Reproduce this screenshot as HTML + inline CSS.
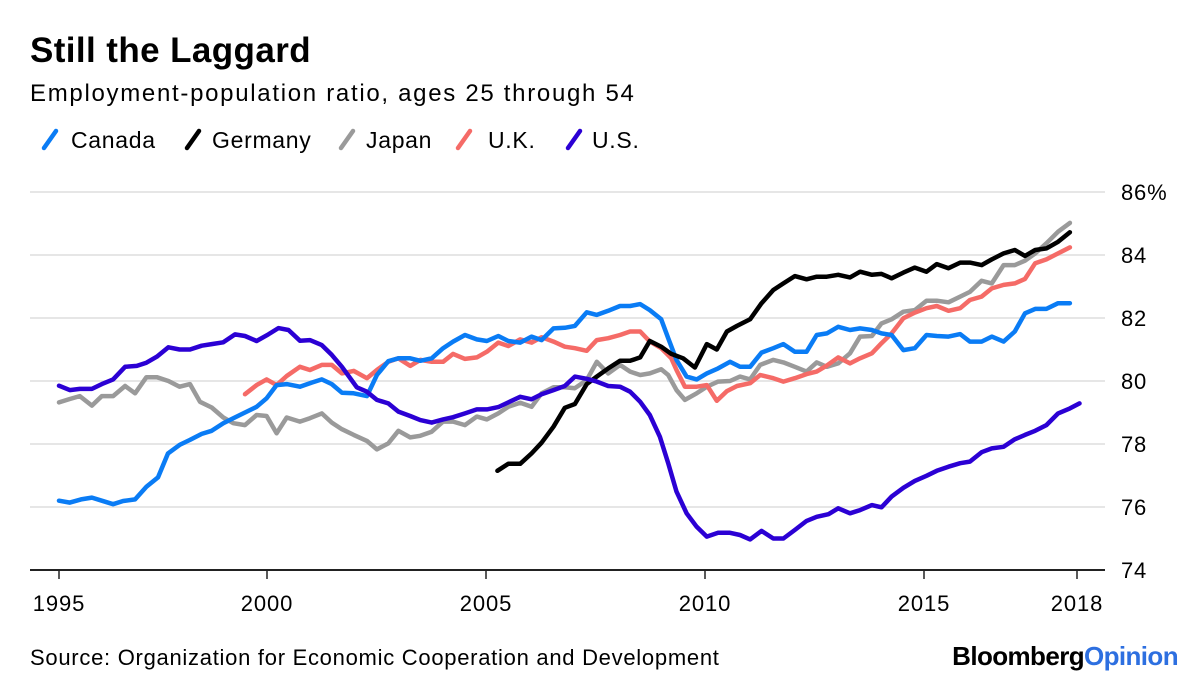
<!DOCTYPE html>
<html><head><meta charset="utf-8">
<style>
body{margin:0;background:#fff;font-family:"Liberation Sans",Arial,sans-serif;}
#wrap{position:relative;width:1200px;height:684px;overflow:hidden;}
svg{position:absolute;left:0;top:0;}
</style></head>
<body>
<div id="wrap">
<svg id="chart" width="1200" height="684">
  <text x="30" y="62" font-size="35" font-weight="bold" letter-spacing="0.4" fill="#000">Still the Laggard</text>
  <text x="30" y="101" font-size="24" letter-spacing="1.7" fill="#000">Employment-population ratio, ages 25 through 54</text>
  <g id="legend"></g>
  <g id="grid"></g>
  <g id="yaxis"></g>
  <g id="xaxis"></g>
  <g id="series"></g>
  <text x="30" y="665" font-size="22" letter-spacing="0.72" fill="#000">Source: Organization for Economic Cooperation and Development</text>
  <text x="1178" y="665" font-size="26" font-weight="bold" text-anchor="end" letter-spacing="-0.6"><tspan fill="#000">Bloomberg</tspan><tspan fill="#2d6fe0">Opinion</tspan></text>
</svg>
</div>
<script>
const yTicks=[74,76,78,80,82,84,86];
const xTickYears=[1995,2000,2005,2010,2015,2018];
const seriesNames=["Canada","Germany","Japan","U.K.","U.S."];
const seriesColors=["#0a7cf5","#000000","#9a9a9a","#f56b67","#2b00d4"];

const canadaT=[1995.0,1995.26,1995.53,1995.79,1996.03,1996.3,1996.54,1996.83,1997.1,1997.38,1997.62,1997.9,1998.15,1998.43,1998.67,1998.95,1999.19,1999.47,1999.75,1999.99,2000.22,2000.45,2000.75,2001.02,2001.25,2001.48,2001.71,2001.98,2002.28,2002.51,2002.77,2003.0,2003.27,2003.5,2003.76,2004.02,2004.25,2004.52,2004.79,2005.02,2005.28,2005.51,2005.78,2006.04,2006.27,2006.54,2006.8,2007.03,2007.3,2007.53,2007.79,2008.06,2008.29,2008.52,2008.74,2009.0,2009.16,2009.35,2009.58,2009.81,2010.04,2010.3,2010.57,2010.8,2011.03,2011.29,2011.56,2011.79,2012.05,2012.32,2012.55,2012.78,2013.04,2013.31,2013.54,2013.81,2014.03,2014.26,2014.53,2014.79,2015.05,2015.25,2015.48,2015.71,2015.9,2016.13,2016.33,2016.56,2016.78,2016.98,2017.18,2017.4,2017.63,2017.86];
const canadaV=[76.2,76.14,76.24,76.3,76.2,76.09,76.19,76.24,76.64,76.94,77.7,77.97,78.13,78.32,78.42,78.66,78.82,79.0,79.18,79.45,79.87,79.9,79.82,79.95,80.05,79.9,79.63,79.61,79.52,80.19,80.63,80.72,80.72,80.64,80.72,81.04,81.25,81.46,81.32,81.27,81.43,81.27,81.22,81.41,81.3,81.67,81.69,81.75,82.18,82.1,82.23,82.38,82.38,82.44,82.25,81.96,81.36,80.67,80.14,80.05,80.24,80.4,80.61,80.45,80.45,80.9,81.04,81.17,80.93,80.93,81.46,81.51,81.72,81.62,81.67,81.62,81.51,81.46,80.98,81.04,81.46,81.43,81.41,81.49,81.25,81.25,81.41,81.25,81.57,82.15,82.29,82.29,82.47,82.47];

const germanyT=[2005.26,2005.51,2005.78,2006.04,2006.27,2006.54,2006.8,2007.03,2007.3,2007.53,2007.79,2008.06,2008.29,2008.52,2008.74,2009.0,2009.23,2009.5,2009.77,2010.04,2010.27,2010.5,2010.73,2011.03,2011.28,2011.56,2011.79,2012.05,2012.32,2012.55,2012.78,2013.04,2013.31,2013.54,2013.81,2014.03,2014.26,2014.53,2014.79,2015.05,2015.25,2015.48,2015.71,2015.9,2016.13,2016.33,2016.56,2016.78,2016.98,2017.18,2017.4,2017.63,2017.86];
const germanyV=[77.15,77.37,77.37,77.7,78.04,78.55,79.15,79.27,79.9,80.14,80.4,80.64,80.64,80.75,81.27,81.09,80.86,80.72,80.43,81.17,81.0,81.57,81.75,81.96,82.45,82.89,83.1,83.33,83.23,83.31,83.31,83.37,83.29,83.47,83.37,83.4,83.26,83.44,83.6,83.47,83.71,83.58,83.76,83.76,83.68,83.86,84.05,84.16,83.97,84.16,84.21,84.42,84.72];

const japanT=[1995.0,1995.26,1995.5,1995.79,1996.03,1996.3,1996.59,1996.83,1997.1,1997.35,1997.63,1997.9,1998.15,1998.39,1998.67,1998.95,1999.19,1999.47,1999.75,1999.99,2000.22,2000.45,2000.75,2000.98,2001.25,2001.48,2001.71,2001.98,2002.28,2002.51,2002.77,2003.0,2003.27,2003.5,2003.76,2004.02,2004.25,2004.52,2004.79,2005.02,2005.28,2005.51,2005.78,2006.04,2006.27,2006.54,2006.8,2007.03,2007.3,2007.53,2007.79,2008.06,2008.29,2008.52,2008.74,2009.0,2009.16,2009.35,2009.54,2009.81,2010.04,2010.3,2010.57,2010.8,2011.03,2011.26,2011.56,2011.79,2012.05,2012.32,2012.55,2012.78,2013.04,2013.31,2013.54,2013.81,2014.03,2014.26,2014.53,2014.79,2015.05,2015.25,2015.48,2015.71,2015.9,2016.13,2016.33,2016.56,2016.78,2016.98,2017.18,2017.4,2017.63,2017.86];
const japanV=[79.32,79.43,79.52,79.22,79.52,79.52,79.84,79.61,80.12,80.12,80.0,79.82,79.9,79.34,79.16,78.84,78.66,78.6,78.92,78.89,78.34,78.84,78.71,78.82,78.97,78.68,78.47,78.29,78.1,77.83,78.02,78.42,78.21,78.26,78.39,78.71,78.71,78.6,78.87,78.78,78.97,79.18,79.31,79.18,79.61,79.8,79.8,79.77,80.03,80.61,80.24,80.51,80.3,80.19,80.24,80.37,80.19,79.71,79.4,79.61,79.82,79.98,80.0,80.14,80.05,80.51,80.67,80.59,80.45,80.3,80.59,80.45,80.56,80.88,81.41,81.43,81.83,81.96,82.2,82.25,82.55,82.55,82.5,82.68,82.83,83.18,83.1,83.68,83.68,83.82,84.05,84.37,84.74,85.02];

const ukT=[1999.47,1999.75,1999.99,2000.22,2000.45,2000.75,2000.98,2001.25,2001.48,2001.71,2001.98,2002.28,2002.51,2002.77,2003.0,2003.27,2003.5,2003.76,2004.02,2004.25,2004.52,2004.79,2005.02,2005.28,2005.51,2005.78,2006.04,2006.27,2006.54,2006.8,2007.03,2007.3,2007.53,2007.79,2008.06,2008.29,2008.52,2008.74,2009.0,2009.23,2009.35,2009.54,2009.81,2010.04,2010.27,2010.5,2010.73,2011.03,2011.26,2011.56,2011.79,2012.05,2012.32,2012.55,2012.78,2013.04,2013.31,2013.54,2013.81,2014.03,2014.26,2014.53,2014.79,2015.05,2015.25,2015.48,2015.71,2015.9,2016.13,2016.33,2016.56,2016.78,2016.98,2017.18,2017.4,2017.63,2017.86];
const ukV=[79.58,79.87,80.05,79.87,80.16,80.45,80.35,80.51,80.51,80.24,80.32,80.09,80.35,80.61,80.72,80.48,80.67,80.61,80.61,80.86,80.7,80.75,80.93,81.22,81.11,81.32,81.22,81.39,81.25,81.09,81.04,80.96,81.3,81.36,81.46,81.57,81.57,81.25,81.04,80.72,80.35,79.82,79.82,79.87,79.37,79.68,79.84,79.93,80.19,80.09,79.98,80.09,80.22,80.3,80.49,80.75,80.56,80.72,80.88,81.2,81.51,81.99,82.17,82.31,82.38,82.23,82.31,82.57,82.68,82.94,83.05,83.1,83.24,83.74,83.86,84.05,84.24];

const usT=[1995.0,1995.26,1995.5,1995.79,1996.03,1996.3,1996.59,1996.87,1997.1,1997.35,1997.63,1997.9,1998.15,1998.43,1998.67,1998.95,1999.23,1999.47,1999.75,2000.03,2000.26,2000.49,2000.75,2000.98,2001.25,2001.48,2001.71,2001.9,2002.05,2002.28,2002.51,2002.77,2003.0,2003.27,2003.5,2003.76,2004.02,2004.25,2004.52,2004.79,2005.02,2005.28,2005.51,2005.78,2006.04,2006.27,2006.54,2006.8,2007.03,2007.3,2007.53,2007.79,2008.06,2008.29,2008.52,2008.74,2008.97,2009.16,2009.35,2009.58,2009.81,2010.04,2010.3,2010.57,2010.8,2011.03,2011.29,2011.56,2011.79,2012.05,2012.32,2012.55,2012.82,2013.04,2013.31,2013.54,2013.81,2014.03,2014.26,2014.53,2014.79,2015.05,2015.25,2015.48,2015.71,2015.9,2016.13,2016.33,2016.56,2016.78,2016.98,2017.18,2017.4,2017.63,2017.86,2018.05];
const usV=[79.85,79.71,79.75,79.75,79.9,80.05,80.45,80.48,80.58,80.77,81.07,81.0,81.0,81.12,81.17,81.23,81.48,81.43,81.27,81.48,81.68,81.62,81.28,81.3,81.14,80.83,80.45,80.09,79.8,79.66,79.4,79.29,79.03,78.89,78.76,78.68,78.78,78.85,78.97,79.1,79.1,79.17,79.32,79.5,79.42,79.58,79.71,79.84,80.14,80.07,79.98,79.84,79.82,79.66,79.34,78.92,78.23,77.39,76.49,75.8,75.37,75.06,75.18,75.18,75.11,74.97,75.24,75.0,75.0,75.27,75.56,75.69,75.77,75.96,75.8,75.9,76.06,75.99,76.33,76.61,76.83,76.99,77.15,77.28,77.39,77.44,77.74,77.86,77.91,78.15,78.29,78.42,78.6,78.97,79.13,79.29];

const seriesT=[canadaT,germanyT,japanT,ukT,usT];
const seriesV=[canadaV,germanyV,japanV,ukV,usV];

const NS="http://www.w3.org/2000/svg";
const plotLeft=30, plotRight=1105, yTop=192, yBottom=570;
const xAnchorYears=[1995,2000,2005,2010,2015,2018];
const xAnchorPx=[59,267,486,705,924,1077];
function xScale(t){
  let i=0;
  while(i<xAnchorYears.length-2 && t>xAnchorYears[i+1]) i++;
  const a=xAnchorYears[i],b=xAnchorYears[i+1];
  return xAnchorPx[i]+(t-a)/(b-a)*(xAnchorPx[i+1]-xAnchorPx[i]);
}
function yScale(v){return yBottom-(v-74)/(86-74)*(yBottom-yTop);}
function mk(tag,attrs,parent){const e=document.createElementNS(NS,tag);for(const k in attrs)e.setAttribute(k,attrs[k]);parent.appendChild(e);return e;}

const grid=document.getElementById('grid'), yaxis=document.getElementById('yaxis'), xaxis=document.getElementById('xaxis');
yTicks.forEach(v=>{
  const y=yScale(v);
  if(v!==74){
    const l=mk('line',{x1:plotLeft,x2:plotRight,y1:y,y2:y,stroke:'#e6e6e6','stroke-width':2},grid);
    
    
  }
  const t=mk('text',{x:1121,y:y+8,'font-size':22,'letter-spacing':0.8,fill:'#000'},yaxis);
  t.textContent=v===86?'86%':String(v);
  
  
});
const axisLine=mk('line',{x1:plotLeft,x2:plotRight,y1:yBottom,y2:yBottom,stroke:'#222','stroke-width':2},xaxis);


xTickYears.forEach(yr=>{
  const x=xScale(yr);
  const tk=mk('line',{x1:x,x2:x,y1:yBottom,y2:yBottom+9,stroke:'#222','stroke-width':1.5},xaxis);
  
  
  const t=mk('text',{x:x,y:611,'font-size':22,'letter-spacing':0.9,'text-anchor':'middle',fill:'#000'},xaxis);
  t.textContent=String(yr);
  
  
});

const series=document.getElementById('series');
const order=[2,3,0,1,4];
order.forEach(i=>{
  const T=seriesT[i],V=seriesV[i];
  const pts=T.map((t,k)=>xScale(t).toFixed(1)+','+yScale(V[k]).toFixed(1)).join(' ');
  const p=mk('polyline',{points:pts,fill:'none',stroke:seriesColors[i],'stroke-width':4.5,'stroke-linejoin':'round','stroke-linecap':'round'},series);
  
  
});

const legend=document.getElementById('legend');
const legendIconX=[44,187,341,458,568];
const legendTextX=[71,212,366,488,592];
seriesNames.forEach((n,i)=>{
  const g=mk('g',{},legend);
  
  
  const x=legendIconX[i];
  mk('line',{x1:x,y1:148,x2:x+12,y2:131,stroke:seriesColors[i],'stroke-width':4.5,'stroke-linecap':'round'},g);
  const t=mk('text',{x:legendTextX[i],y:148,'font-size':23,'letter-spacing':0.7,fill:'#000'},g);
  t.textContent=n;
});
</script>
</body></html>
